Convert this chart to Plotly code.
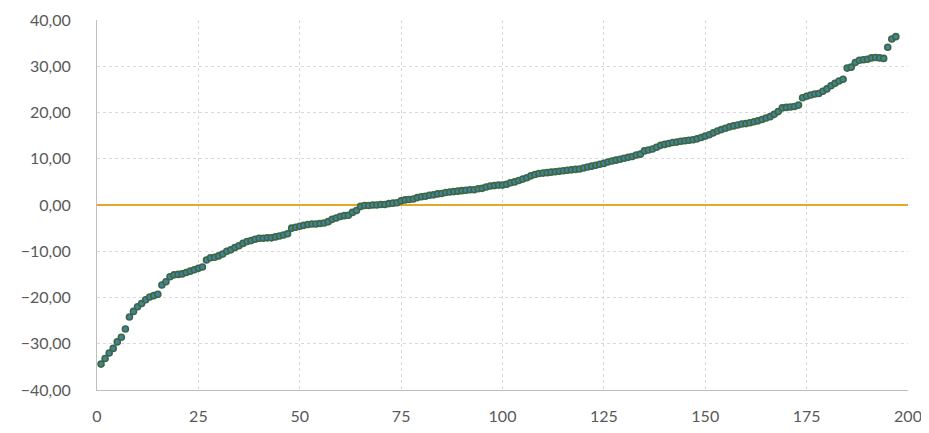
import plotly.graph_objects as go

x_values = list(range(1, 198))
y_values = [
    -34.4, -33.2, -32.0, -31.0, -29.6, -28.6, -26.8, -24.2, -23.0, -22.0,
    -21.3, -20.5, -19.9, -19.6, -19.3, -17.3, -16.6, -15.5, -15.1, -15.0,
    -14.9, -14.6, -14.3, -14.0, -13.7, -13.4, -11.9, -11.4, -11.3, -11.0,
    -10.6, -10.0, -9.7, -9.2, -8.8, -8.3, -7.9, -7.7, -7.4, -7.2,
    -7.2, -7.1, -7.1, -6.9, -6.7, -6.5, -6.2, -5.0, -4.8, -4.6,
    -4.4, -4.2, -4.1, -4.1, -4.0, -3.9, -3.6, -3.1, -2.8, -2.5,
    -2.3, -2.2, -1.6, -1.2, -0.3, -0.1, -0.1, 0.0, 0.0, 0.1,
    0.1, 0.3, 0.4, 0.5, 0.9, 1.1, 1.2, 1.3, 1.6, 1.8,
    1.9, 2.1, 2.2, 2.4, 2.5, 2.7, 2.8, 2.9, 3.0, 3.1,
    3.2, 3.3, 3.3, 3.5, 3.6, 3.9, 4.1, 4.2, 4.3, 4.3,
    4.5, 4.8, 5.0, 5.3, 5.6, 5.9, 6.3, 6.6, 6.8, 6.9,
    7.0, 7.1, 7.2, 7.3, 7.4, 7.5, 7.6, 7.7, 7.8, 8.0,
    8.2, 8.4, 8.6, 8.8, 9.0, 9.3, 9.5, 9.7, 9.9, 10.1,
    10.3, 10.5, 10.8, 11.0, 11.7, 11.9, 12.1, 12.5, 12.9, 13.1,
    13.3, 13.5, 13.6, 13.8, 13.9, 14.0, 14.1, 14.3, 14.6, 14.9,
    15.2, 15.6, 16.0, 16.3, 16.6, 16.9, 17.1, 17.3, 17.5, 17.6,
    17.8, 18.0, 18.2, 18.5, 18.8, 19.1, 19.6, 20.2, 21.0, 21.1,
    21.2, 21.3, 21.6, 23.2, 23.5, 23.8, 24.0, 24.1, 24.6, 25.1,
    25.8, 26.3, 26.8, 27.2, 29.6, 29.8, 30.8, 31.3, 31.4, 31.5,
    31.8, 31.9, 31.8, 31.7, 34.1, 35.9, 36.4,
]

zero_line_x = [0, 200]
zero_line_y = [0, 0]

x_ticks = [0, 25, 50, 75, 100, 125, 150, 175, 200]
y_ticks = [-40, -30, -20, -10, 0, 10, 20, 30, 40]

font_family = "Lato, Open Sans, sans-serif"

fig = go.Figure()
fig.add_trace(go.Scatter(
    x=zero_line_x, y=zero_line_y, mode="lines",
    line=dict(color="#e3a82b", width=2), hoverinfo="skip", showlegend=False,
))
fig.add_trace(go.Scatter(
    x=x_values, y=y_values, mode="markers",
    marker=dict(size=6, color="#46809a", line=dict(color="#3a6842", width=1.6)),
    showlegend=False,
))

fig.update_layout(
    width=921, height=425,
    margin=dict(l=89, r=21, t=12, b=43),
    paper_bgcolor="white", plot_bgcolor="white",
    separators=",.",
    font=dict(family=font_family, size=16, color="#595959"),
)
fig.update_xaxes(
    range=[0, 200], tickvals=x_ticks, ticktext=[str(v) for v in x_ticks],
    showgrid=True, gridcolor="#d9d9d9", griddash="dot", gridwidth=1,
    showline=True, linecolor="#bfbfbf", linewidth=1, mirror=False,
    zeroline=False, ticks="", ticklabelstandoff=12, automargin=False,
)
fig.update_yaxes(
    range=[-40, 40], tickvals=y_ticks, tickformat=".2f",
    showgrid=True, gridcolor="#d9d9d9", griddash="dot", gridwidth=1,
    showline=True, linecolor="#bfbfbf", linewidth=1,
    zeroline=False, ticks="", ticklabelstandoff=22, automargin=False,
)

fig.write_html("out.html")
